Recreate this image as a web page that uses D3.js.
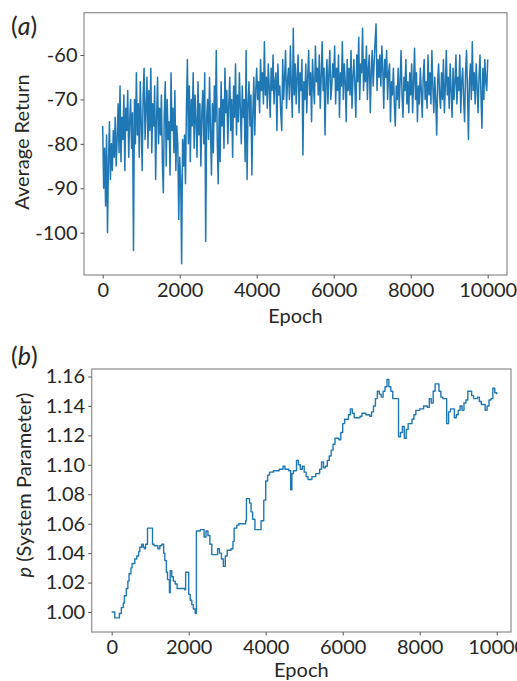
<!DOCTYPE html>
<html>
<head>
<meta charset="utf-8">
<script src="https://cdn.jsdelivr.net/npm/d3@7"></script>
<style>
  body { margin: 0; background: #fff; }
  text { font-family: Lato, "Open Sans", sans-serif; fill: #262626; }
</style>
</head>
<body>
<script>
// panel (a): average return, one value every 25 epochs
let returnEpochStep = 25;
let averageReturn = [
  -76, -90, -81, -94, -78, -100, -84, -75, -88, -80, -86, -77, -83, -74, -85, -79,
  -71, -82, -67, -84, -74, -79, -69, -86, -72, -77, -68, -83, -75, -70, -81, -73,
  -104, -70, -80, -64, -78, -71, -83, -66, -75, -86, -69, -63, -79, -72, -65, -81,
  -68, -77, -63, -82, -71, -76, -67, -88, -74, -65, -80, -72, -78, -69, -84, -91,
  -73, -66, -85, -70, -79, -75, -87, -64, -77, -72, -82, -68, -86, -76, -80, -97,
  -83, -88, -107, -79, -85, -78, -89, -72, -61, -80, -67, -84, -70, -76, -64, -81,
  -69, -75, -83, -66, -78, -71, -85, -73, -68, -80, -64, -102, -74, -70, -79, -65,
  -77, -87, -71, -82, -67, -75, -59, -79, -89, -72, -84, -66, -76, -70, -81, -63,
  -73, -68, -80, -71, -65, -77, -70, -83, -67, -74, -62, -78, -69, -75, -64, -72,
  -80, -67, -74, -70, -84, -59, -88, -71, -66, -76, -69, -87, -73, -65, -78, -68,
  -63, -70, -66, -73, -61, -68, -64, -71, -57, -69, -65, -72, -62, -67, -74, -63,
  -68, -60, -71, -66, -64, -77, -62, -69, -67, -73, -77, -61, -70, -65, -59, -72,
  -66, -63, -70, -58, -67, -74, -54, -69, -62, -71, -65, -60, -73, -64, -68, -61,
  -82.5, -66, -70, -62, -73, -65, -59, -69, -64, -75, -61, -67, -71, -58, -66, -63,
  -69, -60, -72, -65, -57, -68, -63, -78, -66, -61, -71, -64, -59, -70, -67, -62,
  -65, -58, -71, -63, -68, -60, -74, -64, -67, -57, -70, -62, -66, -75, -61, -68,
  -63, -69, -59, -72, -65, -61, -67, -74, -60, -66, -56, -70, -62, -64, -54, -68,
  -61, -66, -58, -70, -63, -60, -73, -64, -59, -67, -62, -57, -53, -68, -61, -65,
  -60, -67, -58, -63, -72, -61, -65, -59, -70, -64, -62, -75, -66, -69, -63, -71,
  -76, -67, -70, -63, -72, -66, -59, -69, -74, -65, -68, -61, -71, -66, -73, -64,
  -69, -62, -73, -66, -58.5, -70, -64, -75, -67, -71, -63, -68, -74, -65, -61, -70,
  -66, -72, -60, -69, -64, -71, -59, -67, -73, -65, -70, -78, -66, -62, -69, -72,
  -64, -70, -61, -73, -67, -59, -69, -65, -72, -62, -68, -74, -63, -70, -66, -60,
  -71, -65, -68, -60, -73, -66, -63, -70, -75, -64, -59, -68, -79, -66, -62, -70,
  -57, -68, -64, -71, -62, -67, -73, -65, -60, -69, -76.5, -63, -70, -61, -66, -68,
  -61
];

// panel (b): system parameter p, step changes [epoch, value]
let paramEpochs = [
  0, 50, 80, 180, 200, 250, 300, 330, 380, 420, 450, 500, 530, 600, 650, 700, 730, 780, 820, 850,
  880, 930, 1060, 1100, 1200, 1250, 1300, 1350, 1380, 1420, 1450, 1500, 1520, 1560, 1600, 1650, 1700, 1900, 1920, 1960,
  2000, 2040, 2080, 2120, 2170, 2200, 2300, 2400, 2450, 2500, 2550, 2600, 2700, 2750, 2800, 2850, 2900, 2950, 3000, 3100,
  3150, 3180, 3250, 3300, 3450, 3480, 3500, 3580, 3620, 3660, 3720, 3880, 3950, 4000, 4050, 4100, 4200, 4350, 4450, 4500,
  4600, 4650, 4680, 4720, 4800, 4850, 4900, 4950, 5000, 5050, 5100, 5200, 5300, 5400, 5450, 5500, 5550, 5600, 5650, 5700,
  5750, 5800, 5900, 5950, 6000, 6050, 6150, 6200, 6250, 6300, 6450, 6500, 6600, 6700, 6750, 6800, 6850, 6900, 6950, 7000,
  7050, 7100, 7150, 7200, 7250, 7300, 7400, 7450, 7500, 7550, 7600, 7650, 7700, 7800, 7850, 7900, 8000, 8100, 8200, 8250,
  8300, 8350, 8400, 8500, 8550, 8600, 8700, 8750, 8800, 8900, 8950, 9000, 9050, 9100, 9150, 9200, 9250, 9300, 9350, 9400,
  9500, 9550, 9600, 9700, 9750, 9800, 9850, 9900, 9950, 10000
];
let paramValues = [
  1.000, 1.000, 0.996, 0.996, 0.999, 1.003, 1.006, 1.011, 1.016, 1.021, 1.026, 1.030, 1.033, 1.036, 1.038, 1.041, 1.044, 1.046, 1.044, 1.043,
  1.046, 1.057, 1.046, 1.045, 1.043, 1.045, 1.046, 1.040, 1.035, 1.027, 1.022, 1.013, 1.028, 1.024, 1.021, 1.019, 1.016, 1.015, 1.027, 1.027,
  1.012, 1.008, 1.005, 1.002, 0.999, 1.055, 1.056, 1.051, 1.055, 1.052, 1.046, 1.039, 1.039, 1.043, 1.040, 1.036, 1.031, 1.038, 1.042, 1.043,
  1.048, 1.057, 1.059, 1.060, 1.060, 1.062, 1.077, 1.074, 1.068, 1.063, 1.056, 1.062, 1.076, 1.089, 1.093, 1.095, 1.096, 1.097, 1.099, 1.097,
  1.096, 1.083, 1.094, 1.096, 1.103, 1.100, 1.097, 1.099, 1.095, 1.092, 1.090, 1.092, 1.094, 1.097, 1.102, 1.098, 1.099, 1.103, 1.106, 1.110,
  1.114, 1.118, 1.117, 1.122, 1.128, 1.131, 1.134, 1.138, 1.135, 1.132, 1.133, 1.135, 1.134, 1.133, 1.136, 1.140, 1.145, 1.150, 1.148, 1.146,
  1.150, 1.153, 1.158, 1.153, 1.150, 1.145, 1.145, 1.119, 1.122, 1.126, 1.118, 1.124, 1.128, 1.131, 1.134, 1.137, 1.138, 1.140, 1.139, 1.145,
  1.142, 1.150, 1.155, 1.150, 1.146, 1.145, 1.128, 1.136, 1.138, 1.132, 1.134, 1.137, 1.140, 1.137, 1.142, 1.144, 1.150, 1.150, 1.147, 1.145,
  1.146, 1.143, 1.141, 1.137, 1.140, 1.144, 1.145, 1.152, 1.149, 1.148
];

let xTicks = [0, 2000, 4000, 6000, 8000, 10000];
let returnTicks = [-60, -70, -80, -90, -100];
let paramTicks = [1.00, 1.02, 1.04, 1.06, 1.08, 1.10, 1.12, 1.14, 1.16];

let lineColor = "#1f77b4";

let svg = d3.select("body").append("svg").attr("width", 517).attr("height", 681);

function panel(cfg) {
  let g = svg.append("g");
  let x = d3.scaleLinear().domain([0, 10000]).range([cfg.x0, cfg.x1]);
  let y = d3.scaleLinear().domain(cfg.yDomain).range(cfg.yRange);

  g.append("rect")
    .attr("x", cfg.box[0]).attr("y", cfg.box[1])
    .attr("width", cfg.box[2] - cfg.box[0]).attr("height", cfg.box[3] - cfg.box[1])
    .attr("fill", "none").attr("stroke", "#8c8c8c").attr("stroke-width", 1.2);

  let line = d3.line().x(d => x(d[0])).y(d => y(d[1]));
  if (cfg.curve) line.curve(cfg.curve);
  g.append("path")
    .datum(cfg.data)
    .attr("d", line)
    .attr("fill", "none")
    .attr("stroke", lineColor)
    .attr("stroke-width", cfg.lw)
    .attr("stroke-linejoin", "round");

  let xAxis = g.append("g")
    .attr("transform", "translate(0," + cfg.box[3] + ")")
    .call(d3.axisBottom(x).tickValues(xTicks).tickSize(3.5).tickPadding(4).tickFormat(d => String(d)));
  let yAxis = g.append("g")
    .attr("transform", "translate(" + cfg.box[0] + ",0)")
    .call(d3.axisLeft(y).tickValues(cfg.yTicks).tickSize(3.5).tickPadding(3).tickFormat(cfg.fmt));
  [xAxis, yAxis].forEach(a => {
    a.select(".domain").remove();
    a.selectAll(".tick line").attr("stroke", "#555");
    a.selectAll("text").attr("fill", "#262626").style("font-size", "20px").attr("font-family", null);
  });

  g.append("text")
    .attr("x", (cfg.box[0] + cfg.box[2]) / 2).attr("y", cfg.xLabelY)
    .attr("text-anchor", "middle").style("font-size", "20px")
    .text("Epoch");

  return g;
}

let ga = panel({
  x0: 102.7, x1: 487.7, box: [84, 12.7, 507, 275],
  yDomain: [-60, -100], yRange: [55, 232.7], yTicks: returnTicks,
  fmt: d => String(d), lw: 1.5, xLabelY: 323,
  data: averageReturn.map((v, i) => [i * returnEpochStep, v])
});
ga.append("text")
  .attr("transform", "translate(29,142) rotate(-90)")
  .attr("text-anchor", "middle").style("font-size", "20px")
  .text("Average Return");
let la = ga.append("text").attr("x", 11).attr("y", 35).style("font-size", "25px");
la.append("tspan").text("(");
la.append("tspan").style("font-style", "italic").text("a");
la.append("tspan").text(")");

let gb = panel({
  x0: 111.7, x1: 496.7, box: [91.7, 369, 511, 632],
  yDomain: [1.00, 1.16], yRange: [612, 376.5], yTicks: paramTicks,
  fmt: d3.format(".2f"), lw: 1.4, xLabelY: 677, curve: d3.curveStepAfter,
  data: paramEpochs.map((e, i) => [e, paramValues[i]])
});
let lb = gb.append("text")
  .attr("transform", "translate(31,485) rotate(-90)")
  .attr("text-anchor", "middle").style("font-size", "20px");
lb.append("tspan").style("font-style", "italic").text("p");
lb.append("tspan").text(" (System Parameter)");
let lbb = gb.append("text").attr("x", 11).attr("y", 365).style("font-size", "25px");
lbb.append("tspan").text("(");
lbb.append("tspan").style("font-style", "italic").text("b");
lbb.append("tspan").text(")");
</script>
</body>
</html>
